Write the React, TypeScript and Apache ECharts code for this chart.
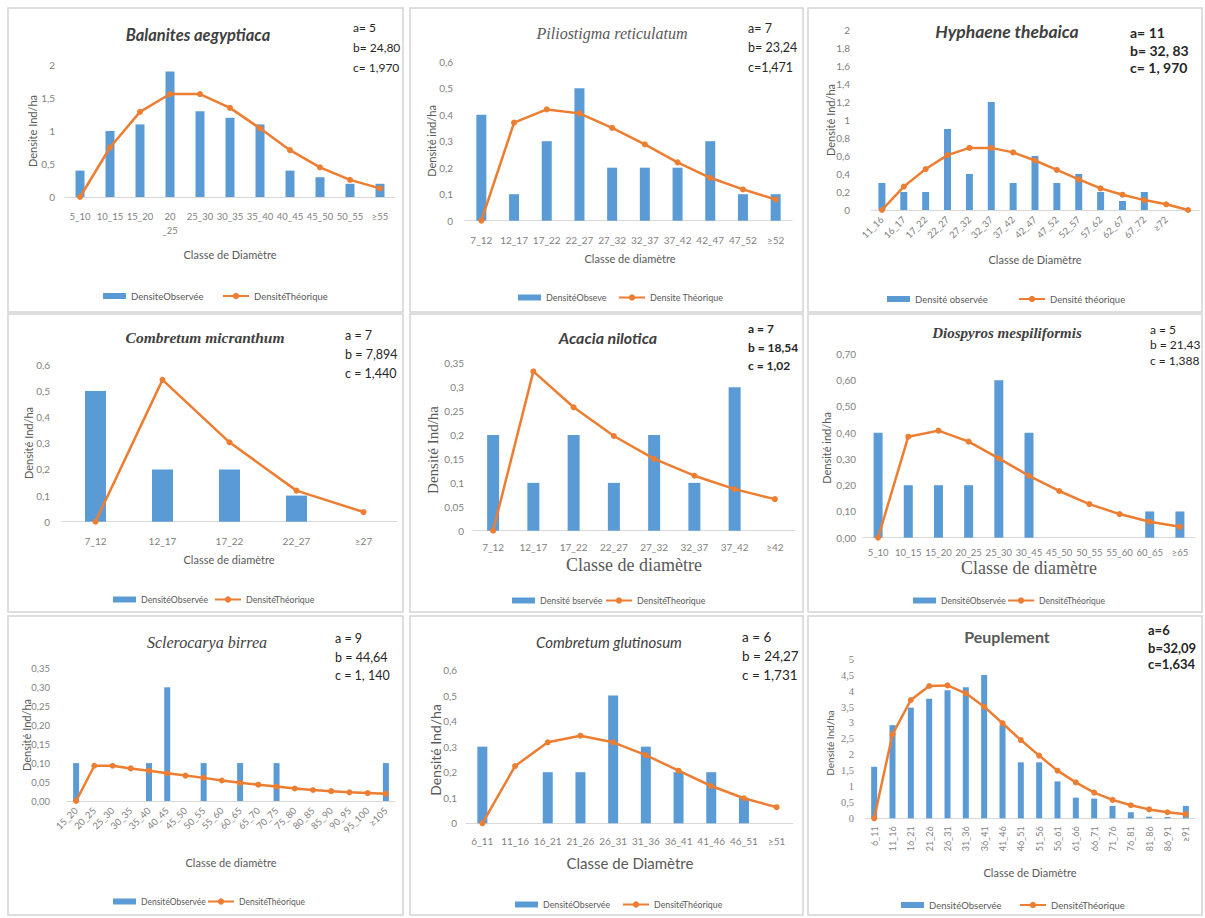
import React, { useEffect, useRef } from 'react';
import * as echarts from 'echarts';

const BAR = '#5B9BD5';
const LINE = '#ED7D31';
const SANS = 'Lato, "Liberation Sans", sans-serif';
const SERIF = '"Liberation Serif", "DejaVu Serif", serif';

// ---------- data ----------
const titles = [
  'Balanites aegyptiaca', 'Piliostigma reticulatum', 'Hyphaene thebaica',
  'Combretum micranthum', 'Acacia nilotica', 'Diospyros mespiliformis',
  'Sclerocarya birrea', 'Combretum glutinosum', 'Peuplement',
];
const params = [
  ['a= 5', 'b= 24,80', 'c= 1,970'],
  ['a= 7', 'b= 23,24', 'c=1,471'],
  ['a= 11', 'b= 32, 83', 'c= 1, 970'],
  ['a = 7', 'b = 7,894', 'c = 1,440'],
  ['a = 7', 'b = 18,54', 'c = 1,02'],
  ['a = 5', 'b = 21,43', 'c = 1,388'],
  ['a = 9', 'b = 44,64', 'c = 1, 140'],
  ['a = 6', 'b = 24,27', 'c = 1,731'],
  ['a=6', 'b=32,09', 'c=1,634'],
];
const obsNames = ['DensiteObservée', 'DensitéObseve', 'Densité observée', 'DensitéObservée', 'Densité bservée', 'DensitéObservée', 'DensitéObservée', 'DensitéObservée', 'DensitéObservée'];
const theoNames = ['DensitéThéorique', 'Densite Théorique', 'Densité théorique', 'DensitéThéorique', 'DensitéTheorique', 'DensitéThéorique', 'DensitéThéorique', 'DensitéThéorique', 'DensitéThéorique'];
const yNames = ['Densite Ind/ha', 'Densité ind/ha', 'Densité Ind/ha', 'Densité Ind/ha', 'Densité Ind/ha', 'Densité ind/ha', 'Densité Ind/ha', 'Densité Ind/ha', 'Densité Ind/ha'];
const xNames = ['Classe de Diamètre', 'Classe de diamètre', 'Classe de Diamètre', 'Classe de diamètre', 'Classe de diamètre', 'Classe de diamètre', 'Classe de diamètre', 'Classe de Diamètre', 'Classe de Diamètre'];

const balanitesCats = ['5_10', '10_15', '15_20', '20\n_25', '25_30', '30_35', '35_40', '40_45', '45_50', '50_55', '≥55'];
const balanitesObs = [0.4, 1.0, 1.1, 1.9, 1.3, 1.2, 1.1, 0.4, 0.3, 0.2, 0.2];
const balanitesTheo = [0, 0.75, 1.29, 1.56, 1.56, 1.35, 1.04, 0.71, 0.45, 0.26, 0.13];

const piliostigmaCats = ['7_12', '12_17', '17_22', '22_27', '27_32', '32_37', '37_42', '42_47', '47_52', '≥52'];
const piliostigmaObs = [0.4, 0.1, 0.3, 0.5, 0.2, 0.2, 0.2, 0.3, 0.1, 0.1];
const piliostigmaTheo = [0, 0.37, 0.42, 0.405, 0.35, 0.288, 0.22, 0.162, 0.118, 0.08];

const hyphaeneCats = ['11_16', '16_17', '17_22', '22_27', '27_32', '32_37', '37_42', '42_47', '47_52', '52_57', '57_62', '62_67', '67_72', '≥72', ''];
const hyphaeneObs = [0.3, 0.2, 0.2, 0.9, 0.4, 1.2, 0.3, 0.6, 0.3, 0.4, 0.2, 0.1, 0.2, null, null];
const hyphaeneTheo = [0, 0.26, 0.455, 0.61, 0.69, 0.69, 0.64, 0.55, 0.445, 0.34, 0.24, 0.17, 0.11, 0.063, 0];

const micranthumCats = ['7_12', '12_17', '17_22', '22_27', '≥27'];
const micranthumObs = [0.5, 0.2, 0.2, 0.1, null];
const micranthumTheo = [0, 0.543, 0.304, 0.119, 0.037];

const acaciaCats = ['7_12', '12_17', '17_22', '22_27', '27_32', '32_37', '37_42', '≥42'];
const acaciaObs = [0.2, 0.1, 0.2, 0.1, 0.2, 0.1, 0.3, null];
const acaciaTheo = [0, 0.333, 0.258, 0.198, 0.15, 0.115, 0.087, 0.066];

const diospyrosCats = ['5_10', '10_15', '15_20', '20_25', '25_30', '30_45', '45_50', '50_55', '55_60', '60_65', '≥65'];
const diospyrosObs = [0.4, 0.2, 0.2, 0.2, 0.6, 0.4, null, null, null, 0.1, 0.1];
const diospyrosTheo = [0, 0.385, 0.408, 0.366, 0.302, 0.236, 0.178, 0.128, 0.09, 0.061, 0.042];

const sclerocaryaCats = ['15_20', '20_25', '25_30', '30_35', '35_40', '40_45', '45_50', '50_55', '55_60', '60_65', '65_70', '70_75', '75_80', '80_85', '85_90', '90_95', '95_100', '≥105'];
const sclerocaryaObs = [0.1, null, null, null, 0.1, 0.3, null, 0.1, null, 0.1, null, 0.1, null, null, null, null, null, 0.1];
const sclerocaryaTheo = [0, 0.093, 0.093, 0.086, 0.08, 0.073, 0.067, 0.061, 0.054, 0.048, 0.043, 0.038, 0.033, 0.029, 0.026, 0.023, 0.021, 0.019];

const glutinosumCats = ['6_11', '11_16', '16_21', '21_26', '26_31', '31_36', '36_41', '41_46', '46_51', '≥51'];
const glutinosumObs = [0.3, null, 0.2, 0.2, 0.5, 0.3, 0.2, 0.2, 0.1, null];
const glutinosumTheo = [0, 0.224, 0.317, 0.343, 0.317, 0.267, 0.206, 0.146, 0.098, 0.063];

const peuplementCats = ['6_11', '11_16', '16_21', '21_26', '26_31', '31_36', '36_41', '41_46', '46_51', '51_56', '56_61', '61_66', '66_71', '71_76', '76_81', '81_86', '86_91', '≥91'];
const peuplementObs = [1.62, 2.93, 3.48, 3.76, 4.03, 4.12, 4.51, 2.93, 1.76, 1.76, 1.16, 0.65, 0.62, 0.39, 0.19, 0.05, 0.04, 0.39];
const peuplementTheo = [0, 2.64, 3.72, 4.16, 4.18, 3.93, 3.51, 2.99, 2.46, 1.97, 1.5, 1.13, 0.81, 0.58, 0.41, 0.28, 0.19, 0.13];

const cats = [balanitesCats, piliostigmaCats, hyphaeneCats, micranthumCats, acaciaCats, diospyrosCats, sclerocaryaCats, glutinosumCats, peuplementCats];
const obs = [balanitesObs, piliostigmaObs, hyphaeneObs, micranthumObs, acaciaObs, diospyrosObs, sclerocaryaObs, glutinosumObs, peuplementObs];
const theo = [balanitesTheo, piliostigmaTheo, hyphaeneTheo, micranthumTheo, acaciaTheo, diospyrosTheo, sclerocaryaTheo, glutinosumTheo, peuplementTheo];
const yMax = [2, 0.6, 2, 0.6, 0.35, 0.7, 0.35, 0.6, 5];
const yStep = [0.5, 0.1, 0.2, 0.1, 0.05, 0.1, 0.05, 0.1, 0.5];
const yDecimals = [0, 0, 0, 0, 0, 2, 2, 0, 0];

// ---------- layout (positions / styles) ----------
type Layout = {
  frame: [number, number, number, number];
  grid: [number, number, number, number]; // left, top, width, height
  bw: number; rot: number; xm: number; xfs: number; ym: number; yfs: number; yfam: string;
  title: [number, number]; tfam: string; tsize: number; tweight: string; tstyle: string; tcolor: string;
  par: [number, number, number, number]; psize: number; pweight: string;
  leg: [number, number, number]; lfs: number;
  yn: [number, number]; ynSize: number; ynFam: string;
  xn: [number, number]; xnSize: number; xnFam: string;
};

const layouts: Layout[] = [
  { frame: [8, 8, 395, 304], grid: [65, 65, 330, 132], bw: 9, rot: 0, xm: 12, xfs: 9.5, ym: 10, yfs: 10, yfam: SANS,
    title: [198, 35], tfam: SANS, tsize: 16.5, tweight: 'bold', tstyle: 'italic', tcolor: '#404040',
    par: [353, 27, 47, 67], psize: 12, pweight: 'normal', leg: [98, 217, 293], lfs: 9.5,
    yn: [32, 131], ynSize: 11, ynFam: SANS, xn: [230, 254], xnSize: 11, xnFam: SANS },
  { frame: [410, 8, 393, 304], grid: [465, 61.7, 327, 159], bw: 10, rot: 0, xm: 12, xfs: 10, ym: 12, yfs: 10, yfam: SANS,
    title: [612, 33], tfam: SERIF, tsize: 16, tweight: 'normal', tstyle: 'italic', tcolor: '#595959',
    par: [748, 28, 47, 67], psize: 12.5, pweight: 'normal', leg: [513, 613, 295], lfs: 9,
    yn: [431, 141], ynSize: 11, ynFam: SANS, xn: [630, 258], xnSize: 11, xnFam: SANS },
  { frame: [808, 8, 394, 304], grid: [871, 30, 328, 180], bw: 7, rot: 45, xm: 8, xfs: 9.5, ym: 21, yfs: 10, yfam: SANS,
    title: [1007, 31], tfam: SANS, tsize: 17.5, tweight: 'bold', tstyle: 'italic', tcolor: '#404040',
    par: [1130, 32, 50, 67], psize: 14, pweight: 'bold', leg: [882, 1013, 296], lfs: 9.5,
    yn: [830, 120], ynSize: 11, ynFam: SANS, xn: [1035, 259], xnSize: 11, xnFam: SANS },
  { frame: [8, 314, 395, 298], grid: [62, 365, 335, 156.7], bw: 21, rot: 0, xm: 12, xfs: 10, ym: 12, yfs: 10, yfam: SANS,
    title: [205, 337], tfam: SERIF, tsize: 15.5, tweight: 'bold', tstyle: 'italic', tcolor: '#404040',
    par: [345, 335, 354, 373], psize: 12.5, pweight: 'normal', leg: [108, 209, 597], lfs: 8.8,
    yn: [28, 443], ynSize: 11, ynFam: SANS, xn: [229, 559], xnSize: 11, xnFam: SANS },
  { frame: [410, 314, 393, 298], grid: [473, 363.3, 322, 167.4], bw: 12, rot: 0, xm: 9, xfs: 10, ym: 9, yfs: 10, yfam: SANS,
    title: [608, 337], tfam: SANS, tsize: 16, tweight: 'bold', tstyle: 'italic', tcolor: '#404040',
    par: [748, 328, 347, 365], psize: 12, pweight: 'bold', leg: [507, 600, 598], lfs: 8.8,
    yn: [433, 450], ynSize: 15, ynFam: SERIF, xn: [634, 565], xnSize: 18, xnFam: SERIF },
  { frame: [808, 314, 394, 298], grid: [863, 354, 332, 183.7], bw: 9, rot: 0, xm: 8, xfs: 9.5, ym: 7, yfs: 10, yfam: SANS,
    title: [1007, 333], tfam: SERIF, tsize: 15, tweight: 'bold', tstyle: 'italic', tcolor: '#404040',
    par: [1150, 329, 344, 360], psize: 12, pweight: 'normal', leg: [908, 1002, 598], lfs: 8.5,
    yn: [826, 448], ynSize: 11, ynFam: SANS, xn: [1029, 568], xnSize: 18, xnFam: SERIF },
  { frame: [8, 616, 395, 299], grid: [67, 668.3, 328, 132.7], bw: 6, rot: 45, xm: 8, xfs: 9.5, ym: 17, yfs: 9.5, yfam: SANS,
    title: [207, 642], tfam: SERIF, tsize: 16, tweight: 'normal', tstyle: 'italic', tcolor: '#404040',
    par: [335, 638, 657, 675], psize: 12.5, pweight: 'normal', leg: [108, 202, 899], lfs: 8.5,
    yn: [26, 735], ynSize: 11, ynFam: SANS, xn: [231, 862], xnSize: 11, xnFam: SANS },
  { frame: [410, 616, 393, 299], grid: [466, 670, 327, 153.3], bw: 10, rot: 0, xm: 11, xfs: 10, ym: 9, yfs: 10, yfam: SANS,
    title: [609, 642], tfam: SANS, tsize: 15, tweight: 'normal', tstyle: 'italic', tcolor: '#404040',
    par: [742, 637, 656, 675], psize: 13.5, pweight: 'normal', leg: [510, 617, 902], lfs: 8.8,
    yn: [435, 750], ynSize: 14, ynFam: SANS, xn: [630, 863], xnSize: 15, xnFam: SANS },
  { frame: [808, 616, 394, 299], grid: [865, 659.3, 330, 159], bw: 6, rot: 90, xm: 8, xfs: 9, ym: 11, yfs: 10.5, yfam: SERIF,
    title: [1007, 636], tfam: SANS, tsize: 16, tweight: 'bold', tstyle: 'normal', tcolor: '#595959',
    par: [1148, 630, 648, 664], psize: 13, pweight: 'bold', leg: [896, 1014, 902], lfs: 9.5,
    yn: [830, 743], ynSize: 10, ynFam: SANS, xn: [1030, 872], xnSize: 11, xnFam: SANS },
];

function fmt(v: number, dec: number) {
  const s = dec ? v.toFixed(dec) : String(+v.toFixed(4));
  return s.replace('.', ',');
}

function buildOption() {
  const grid: any[] = [];
  const xAxis: any[] = [];
  const yAxis: any[] = [];
  const series: any[] = [];
  const legend: any[] = [];
  const graphic: any[] = [];

  layouts.forEach((p, i) => {
    const legendText = { fontSize: p.lfs, color: '#595959', fontFamily: SANS };
    const [fx, fy, fw, fh] = p.frame;
    graphic.push({ type: 'rect', shape: { x: fx, y: fy, width: fw, height: fh }, style: { fill: 'none', stroke: '#d4d4d4', lineWidth: 1.5 }, silent: true, z: -1 });
    grid.push({ left: p.grid[0], top: p.grid[1], width: p.grid[2], height: p.grid[3] });
    xAxis.push({
      type: 'category', gridIndex: i, data: cats[i],
      axisTick: { show: false },
      axisLine: { lineStyle: { color: '#d9d9d9', width: 1 } },
      axisLabel: { interval: 0, rotate: p.rot, margin: p.xm, fontSize: p.xfs, color: '#7f7f7f', fontFamily: SANS, lineHeight: 14 },
    });
    yAxis.push({
      type: 'value', gridIndex: i, min: 0, max: yMax[i], interval: yStep[i],
      axisLine: { show: false }, axisTick: { show: false }, splitLine: { show: false },
      axisLabel: { margin: p.ym, fontSize: p.yfs, color: '#7f7f7f', fontFamily: p.yfam, formatter: (v: number) => fmt(v, yDecimals[i]) },
    });
    series.push({
      type: 'bar', name: obsNames[i], xAxisIndex: i, yAxisIndex: i, data: obs[i],
      barWidth: p.bw, itemStyle: { color: BAR },
    });
    series.push({
      type: 'line', name: theoNames[i], xAxisIndex: i, yAxisIndex: i, data: theo[i],
      symbol: 'circle', symbolSize: 6, lineStyle: { color: LINE, width: 2.5 },
      itemStyle: { color: LINE }, z: 3,
    });
    legend.push({
      data: [{ name: obsNames[i], icon: 'rect' }], left: p.leg[0], top: p.leg[2] - 7, itemWidth: 23, itemHeight: 6,
      itemGap: 0, textStyle: legendText, selectedMode: false,
    });
    legend.push({
      data: [theoNames[i]], left: p.leg[1], top: p.leg[2] - 7, itemWidth: 26, itemHeight: 8,
      itemGap: 0, textStyle: legendText, selectedMode: false,
    });
    graphic.push({
      type: 'text', x: p.title[0], y: p.title[1], silent: true,
      style: { text: titles[i], align: 'center', verticalAlign: 'middle', fill: p.tcolor,
        fontSize: p.tsize, fontFamily: p.tfam, fontWeight: p.tweight, fontStyle: p.tstyle },
    });
    params[i].forEach((t, k) => {
      graphic.push({
        type: 'text', x: p.par[0], y: p.par[k + 1], silent: true,
        style: { text: t, align: 'left', verticalAlign: 'middle', fill: '#262626',
          fontSize: p.psize, fontFamily: SANS, fontWeight: p.pweight },
      });
    });
    graphic.push({
      type: 'text', x: p.yn[0], y: p.yn[1], rotation: Math.PI / 2, silent: true,
      style: { text: yNames[i], align: 'center', verticalAlign: 'middle', fill: '#595959',
        fontSize: p.ynSize, fontFamily: p.ynFam },
    });
    graphic.push({
      type: 'text', x: p.xn[0], y: p.xn[1], silent: true,
      style: { text: xNames[i], align: 'center', verticalAlign: 'middle', fill: '#595959',
        fontSize: p.xnSize, fontFamily: p.xnFam },
    });
  });

  return { animation: false, backgroundColor: '#ffffff', grid, xAxis, yAxis, series, legend, graphic };
}

export default function App() {
  const ref = useRef<HTMLDivElement>(null);
  useEffect(() => {
    if (!ref.current) return;
    const chart = echarts.init(ref.current, undefined, { renderer: 'svg' });
    chart.setOption(buildOption() as any);
    return () => chart.dispose();
  }, []);
  return (
    <div
      ref={ref}
      style={{ position: 'absolute', left: 0, top: 0, width: 1205, height: 918, background: '#fff' }}
    />
  );
}
